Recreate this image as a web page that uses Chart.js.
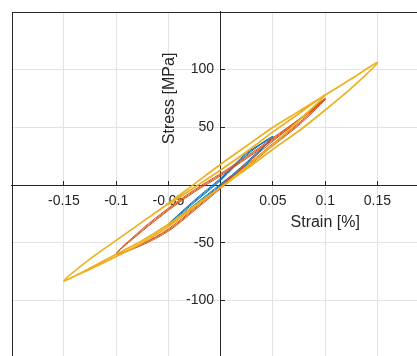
<!DOCTYPE html>
<html>
<head>
<meta charset="utf-8">
<script src="https://cdn.jsdelivr.net/npm/chart.js@4.4.1/dist/chart.umd.min.js"></script>
<style>
  html, body { margin: 0; padding: 0; overflow: hidden; background: #fff; }
  #wrap { position: absolute; left: 0; top: 0; width: 440px; height: 372px; }
</style>
</head>
<body>
<div id="wrap"><canvas id="loops"></canvas></div>
<script>
// tick positions
const strainTicks = [-0.15, -0.1, -0.05, 0.05, 0.1, 0.15];
const stressTicks = [-100, -50, 50, 100];

// cycles at +/-0.05 %
const blueStrain = [0, 0.025, 0.05, 0.025, 0, -0.025, -0.05, -0.025, 0, 0.025, 0.05, 0.025, 0, -0.025, -0.05,
  -0.025, 0, 0.025, 0.05, 0.025, 0, -0.025, -0.05, -0.025, 0, 0.025, 0.05];
const blueStress = [0, 20, 41, 18, -1, -19, -35, -15, 4, 26, 42, 18, 0, -18, -34,
  -14, 5, 27, 42, 19, 1, -17, -34, -13, 6, 28, 41];

// cycles at +/-0.1 %
const redStrain = [0, 0.025, 0.05, 0.075, 0.1,
  0.075, 0.05, 0.025, 0, -0.025, -0.05, -0.075, -0.1,
  -0.075, -0.05, -0.025, 0, 0.025, 0.05, 0.075, 0.1,
  0.075, 0.05, 0.025, 0, -0.025, -0.05, -0.075, -0.1,
  -0.075, -0.05, -0.025, 0, 0.025, 0.05, 0.075, 0.1,
  0.075, 0.05, 0.025, 0, -0.025, -0.05, -0.075, -0.1,
  -0.075, -0.05, -0.025, 0, 0.025, 0.05, 0.075, 0.1];
const redStress = [0, 19, 38, 56, 74,
  52, 34, 15, -3, -22, -40, -52, -60,
  -38, -20, -4, 10, 25, 41, 57, 75,
  53, 35, 16, -2, -21, -39, -51, -60,
  -39, -21, -5, 9, 24, 40, 57, 75,
  54, 36, 17, -1, -20, -38, -51, -60,
  -40, -22, -6, 8, 23, 39, 56, 74];

// loading to 0.1 %, then the +/-0.15 % cycle
const yellowStrain = [-0.05, -0.025, 0, 0.025, 0.05, 0.075, 0.1,
  0.075, 0.05, 0.025, 0, -0.025, -0.05, -0.075, -0.1, -0.125, -0.15,
  -0.125, -0.1, -0.075, -0.05, -0.025, 0, 0.025, 0.05, 0.075, 0.1, 0.125, 0.15,
  0.125, 0.1, 0.075, 0.05, 0.025, 0, -0.025, -0.05, -0.075, -0.1, -0.125, -0.15];
const yellowStress = [-17, -2, 13, 29, 46, 62, 78,
  56, 35, 16, -2, -18, -34, -48, -60, -72, -83,
  -64, -48, -32, -16, 1, 18, 34, 50, 64, 78, 92, 106,
  84, 65, 47, 31, 14, -2, -19, -36, -50, -62, -73, -83];

const toPoints = (xs, ys) => xs.map((x, i) => ({ x: x, y: ys[i] }));

const ink = '#262626';
const fontFamily = '"Liberation Sans", Arial, sans-serif';

// box around the plot area plus the two axis labels
const frame = {
  id: 'frame',
  afterDraw(chart) {
    const { ctx, chartArea: a, scales: { x, y } } = chart;
    ctx.save();
    ctx.strokeStyle = ink;
    ctx.lineWidth = 1;
    ctx.strokeRect(Math.round(a.left) + 0.5, Math.round(a.top) + 0.5, Math.round(a.width), Math.round(a.height));
    ctx.fillStyle = ink;
    ctx.font = '16px ' + fontFamily;
    ctx.textAlign = 'center';
    ctx.textBaseline = 'middle';
    ctx.fillText('Strain [%]', x.getPixelForValue(0.1), y.getPixelForValue(0) + 38);
    ctx.translate(x.getPixelForValue(0) - 51, y.getPixelForValue(75));
    ctx.rotate(-Math.PI / 2);
    ctx.fillText('Stress [MPa]', 0, 0);
    ctx.restore();
  }
};

new Chart(document.getElementById('loops'), {
  type: 'scatter',
  data: {
    datasets: [
      { data: toPoints(yellowStrain, yellowStress), borderColor: '#EDB120', borderWidth: 1.7, order: 1 },
      { data: toPoints(redStrain, redStress), borderColor: '#D95319', borderWidth: 1, order: 2 },
      { data: toPoints(blueStrain, blueStress), borderColor: '#0072BD', borderWidth: 1, order: 3 }
    ]
  },
  options: {
    responsive: true,
    maintainAspectRatio: false,
    animation: false,
    events: [],
    layout: { padding: { left: 11.7, top: 11.9, right: 10.3, bottom: 13.9 } },
    elements: { point: { radius: 0 }, line: { tension: 0.3, fill: false } },
    datasets: { scatter: { showLine: true } },
    plugins: { legend: { display: false }, tooltip: { enabled: false } },
    scales: {
      x: {
        type: 'linear',
        position: { y: 0 },
        min: -0.2,
        max: 0.2,
        afterBuildTicks: s => { s.ticks = strainTicks.map(v => ({ value: v })); },
        afterFit: s => { s.height = 0; },
        grid: { color: '#e3e3e3', tickColor: ink, tickLength: -5 },
        border: { color: ink, width: 1 },
        ticks: {
          color: ink, padding: 13, maxRotation: 0, autoSkip: false,
          font: { family: fontFamily, size: 14 },
          callback: v => String(v)
        }
      },
      y: {
        type: 'linear',
        position: { x: 0 },
        min: -150,
        max: 150,
        afterBuildTicks: s => { s.ticks = stressTicks.map(v => ({ value: v })); },
        afterFit: s => { s.width = 0; },
        grid: { color: '#e3e3e3', tickColor: ink, tickLength: -5 },
        border: { color: ink, width: 1 },
        ticks: {
          color: ink, autoSkip: false,
          font: { family: fontFamily, size: 14 },
          // the labels sit right against the axis line, so pad them on the right
          callback: v => String(v) + ' \u2009'
        }
      }
    }
  },
  plugins: [frame]
});
</script>
</body>
</html>
